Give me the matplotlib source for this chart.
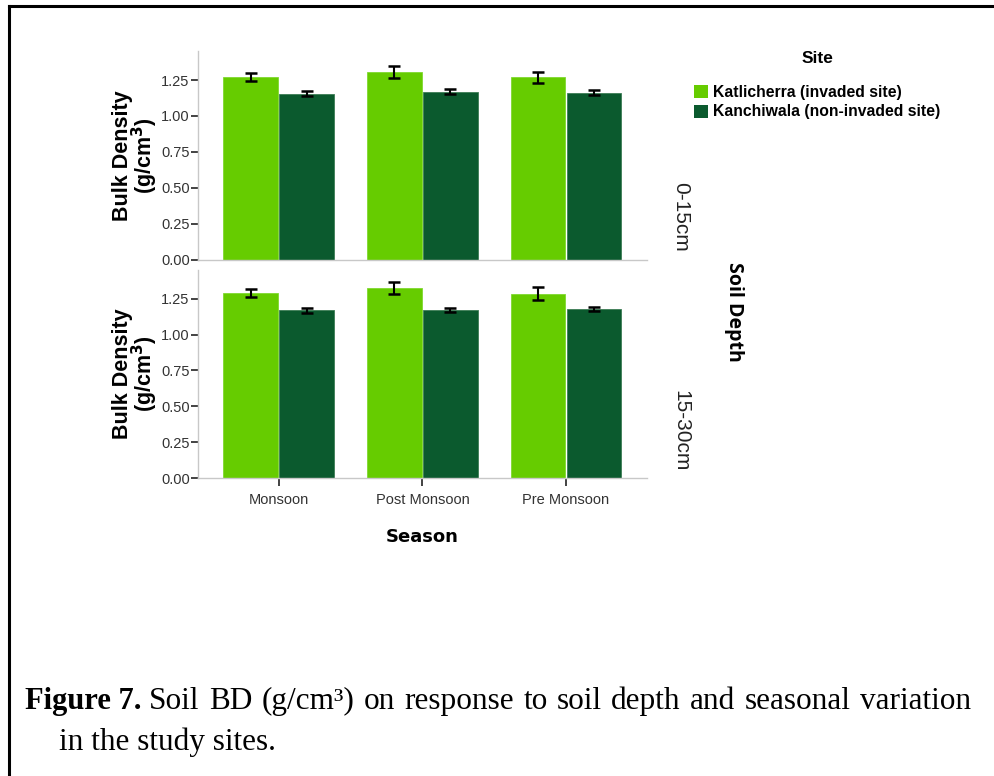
import numpy as np
import matplotlib
matplotlib.use('Agg')
from matplotlib import pyplot as plt
from matplotlib.patches import Patch

# data
seasons   = ['Monsoon', 'Post Monsoon', 'Pre Monsoon']
sites     = ['Katlicherra (invaded site)', 'Kanchiwala (non-invaded site)']
depths    = ['0-15cm', '15-30cm']
bd_kat    = {'0-15cm': [1.27, 1.305, 1.27], '15-30cm': [1.29, 1.325, 1.285]}
bd_kan    = {'0-15cm': [1.155, 1.168, 1.163], '15-30cm': [1.168, 1.172, 1.178]}
err_kat   = {'0-15cm': [0.03, 0.04, 0.038], '15-30cm': [0.025, 0.042, 0.047]}
err_kan   = {'0-15cm': [0.016, 0.017, 0.017], '15-30cm': [0.014, 0.014, 0.011]}
yticks    = [0.00, 0.25, 0.50, 0.75, 1.00, 1.25]
caption1  = 'Soil BD (g/cm\u00b3) on response to soil depth and seasonal variation'
caption2  = 'in the study sites.'

c_kat = '#66cc00'
c_kan = '#0b5a2e'
grey  = '#c8c8c8'
sans  = 'Liberation Sans'
serif = 'Liberation Serif'

fig = plt.figure(figsize=(9.95, 7.76), dpi=100)

ax_pos = [[0.199, 0.665, 0.451, 0.269], [0.199, 0.384, 0.451, 0.268]]
depth_lab_y = [0.206, 0.226]   # where the depth labels sit (axes fraction)
x = np.arange(len(seasons))
w = 0.38
axes = []
for i, d in enumerate(depths):
    ax = fig.add_axes(ax_pos[i])
    axes.append(ax)
    ax.bar(x - w/2 - 0.005, bd_kat[d], w, color=c_kat, edgecolor='#7fd930', linewidth=0.6)
    ax.bar(x + w/2 + 0.005, bd_kan[d], w, color=c_kan, edgecolor='#3d7d55', linewidth=0.6)
    ax.errorbar(x - w/2 - 0.005, bd_kat[d], yerr=err_kat[d], fmt='none', ecolor='black',
                elinewidth=1.5, capsize=4.5, capthick=1.8)
    ax.errorbar(x + w/2 + 0.005, bd_kan[d], yerr=err_kan[d], fmt='none', ecolor='black',
                elinewidth=1.5, capsize=4.5, capthick=1.8)
    ax.set_xlim(-0.5625, 2.5625)
    ax.set_ylim(0, 1.45)
    ax.set_yticks(yticks)
    ax.set_yticklabels(['%.2f' % t for t in yticks], family=sans, fontsize=10.5, color='#333333')
    for s in ['top', 'right']:
        ax.spines[s].set_visible(False)
    for s in ['left', 'bottom']:
        ax.spines[s].set_color(grey)
        ax.spines[s].set_linewidth(1.0)
    ax.tick_params(axis='y', length=5, width=1.2, color='#222222', pad=1)
    ax.set_ylabel('Bulk Density\n(g/cm$^\\mathbf{3}$)', family=sans, fontsize=15.5,
                  fontweight='bold', linespacing=0.85, labelpad=1)
    ax.text(1.075, depth_lab_y[i], d, transform=ax.transAxes, rotation=-90, ha='center',
            va='center', family=sans, fontsize=15, color='#222222')

axes[0].set_xticks([])
axes[1].set_xticks(x)
axes[1].set_xticklabels(seasons, family=sans, fontsize=10.5, color='#333333')
axes[1].tick_params(axis='x', length=6, width=1.2, color='#222222', pad=5)
axes[1].set_xlabel('Season', family='DejaVu Sans', fontsize=13, fontweight='bold', labelpad=15)

fig.text(0.738, 0.598, 'Soil Depth', rotation=-90, ha='center', va='center',
         family='Open Sans', fontsize=14, fontweight='bold')

# legend
fig.text(0.822, 0.925, 'Site', ha='center', va='center', family=sans, fontweight='bold',
         fontsize=12.5)
handles = [Patch(facecolor=c_kat, edgecolor='none'), Patch(facecolor=c_kan, edgecolor='none')]
fig.legend(handles, sites, loc='upper left', bbox_to_anchor=(0.683, 0.909),
           frameon=False, handlelength=0.9, handleheight=0.9,
           handletextpad=0.3, labelspacing=0.3,
           prop={'family': sans, 'weight': 'bold', 'size': 11.3})

# caption, first line justified between x=149px and x=971px
fs = 22.5
y1, y2 = 0.0865, 0.0335   # baselines
fig.text(0.025, y1, 'Figure 7.', family=serif, fontweight='bold', fontsize=22, va='baseline')
renderer = fig.canvas.get_renderer()
words = caption1.split(' ')
tw = [fig.text(0, 0, wd, family=serif, fontsize=fs) for wd in words]
widths = []
for t in tw:
    widths.append(t.get_window_extent(renderer).width)
    t.remove()
x0, x1 = 149.0, 971.0
gap = (x1 - x0 - sum(widths)) / (len(words) - 1)
xp = x0
for wd, wpx in zip(words, widths):
    fig.text(xp / fig.bbox.width, y1, wd, family=serif, fontsize=fs, va='baseline')
    xp += wpx + gap
fig.text(0.059, y2, caption2, family=serif, fontsize=fs, va='baseline')

# border lines (top and left)
fig.add_artist(plt.Line2D([0.009, 1.0], [0.9925, 0.9925], color='black', linewidth=2.2,
                          transform=fig.transFigure))
fig.add_artist(plt.Line2D([0.009, 0.009], [0.0, 0.9925], color='black', linewidth=2.2,
                          transform=fig.transFigure))

fig.savefig('out.png', dpi=100)
